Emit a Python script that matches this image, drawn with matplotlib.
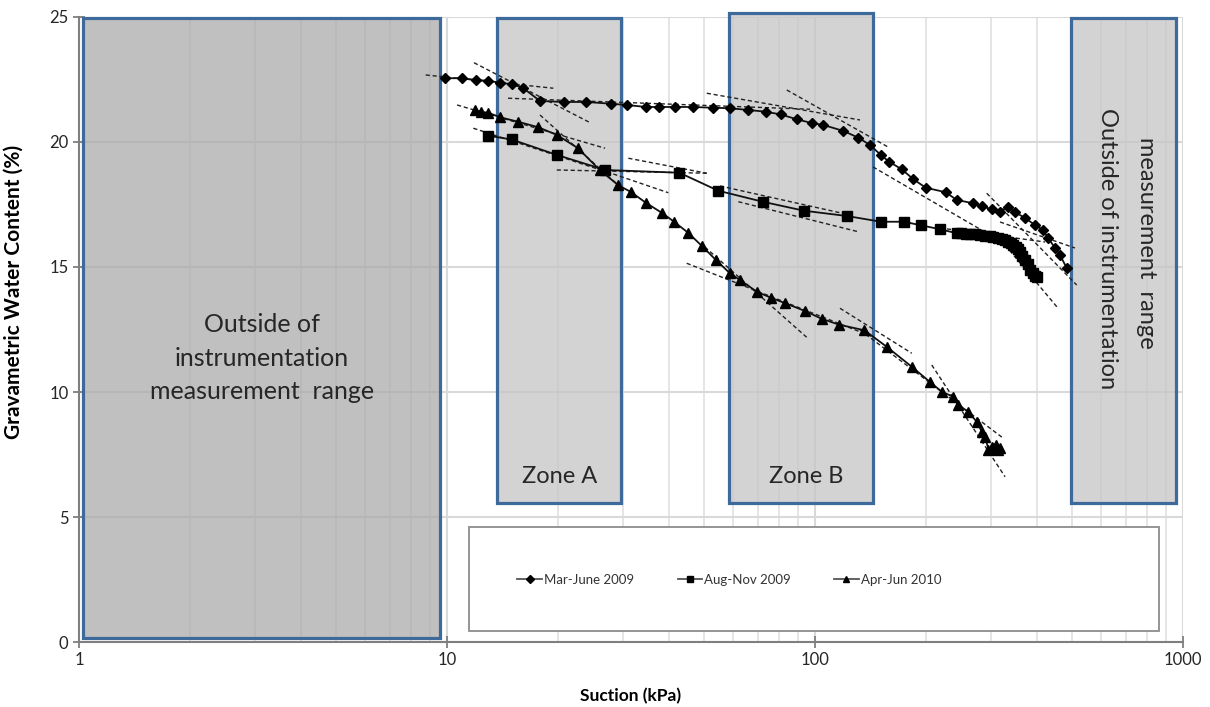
import matplotlib
matplotlib.use("Agg")
import matplotlib.pyplot as plt
from matplotlib.patches import Rectangle
from matplotlib.ticker import LogLocator, FixedLocator, NullFormatter

plt.rcParams['font.family'] = ['Lato', 'DejaVu Sans']

# === data ===
# Mar-June 2009 (diamonds)
suction_2009a = [9.9, 10.96, 11.99, 12.92, 13.93, 14.99, 16.05, 17.9, 20.8, 23.9,
                 27.9, 30.8, 34.7, 37.7, 41.6, 46.6, 52.7, 58.7, 65.8, 73.6,
                 80.7, 89.6, 98.4, 105.4, 119.5, 131.2, 141, 151, 158.9, 172,
                 185, 200, 226.6, 242.7, 269, 284, 302, 318, 334, 349,
                 372, 396, 416, 430, 449, 463, 483]
water_2009a = [22.55, 22.55, 22.48, 22.45, 22.37, 22.31, 22.17, 21.64, 21.6, 21.6,
               21.53, 21.48, 21.4, 21.4, 21.4, 21.4, 21.37, 21.35, 21.28, 21.21,
               21.1, 20.9, 20.75, 20.68, 20.44, 20.17, 19.88, 19.48, 19.21, 18.91,
               18.51, 18.17, 17.99, 17.68, 17.55, 17.44, 17.3, 17.21, 17.41, 17.2,
               16.96, 16.68, 16.48, 16.16, 15.76, 15.48, 14.96]

# Aug-Nov 2009 (squares)
suction_2009b = [12.95, 14.99, 19.9, 26.9, 42.8, 54.6, 72.1, 93.4, 122, 151,
                 174.5, 193.7, 218.6, 242.7, 250, 258, 264, 272, 281, 290,
                 298, 305, 315, 322, 328, 335, 340, 346, 352, 356,
                 361, 366, 372, 378, 384, 390, 395, 400]
water_2009b = [20.25, 20.1, 19.48, 18.88, 18.77, 18.05, 17.61, 17.25, 17.04, 16.81,
               16.81, 16.67, 16.51, 16.35, 16.34, 16.33, 16.32, 16.3, 16.28, 16.25,
               16.22, 16.19, 16.14, 16.1, 16.08, 16.0, 15.95, 15.88, 15.8, 15.72,
               15.61, 15.45, 15.28, 15.1, 14.88, 14.75, 14.65, 14.6]

# Apr-Jun 2010 (triangles)
suction_2010 = [11.92, 12.4, 12.95, 13.93, 15.6, 17.7, 19.9, 22.7, 26.0, 29.2,
                31.6, 34.7, 38.5, 41.4, 45.2, 49.2, 53.8, 58.7, 62.5, 69.5,
                75.9, 83.0, 93.9, 104.2, 116.4, 136.2, 156.6, 183.2, 205, 221,
                237.6, 245, 261, 275, 284, 290, 296, 302, 305, 310, 315, 318]
water_2010 = [21.28, 21.2, 21.17, 20.99, 20.81, 20.59, 20.28, 19.75, 18.88, 18.27,
              18.0, 17.57, 17.15, 16.81, 16.37, 15.85, 15.28, 14.75, 14.48, 14.01,
              13.77, 13.55, 13.24, 12.93, 12.69, 12.47, 11.81, 11.01, 10.41, 10.01,
              9.81, 9.48, 9.21, 8.81, 8.41, 8.2, 7.7, 7.81, 7.75, 7.9, 7.7, 7.75]

series_labels = ['Mar-June 2009', 'Aug-Nov 2009', 'Apr-Jun 2010']

# dashed tangent lines: (x0, y0, x1, y1)
tangents = [
    (8.75, 22.68, 19.45, 22.15), (11.84, 23.17, 24.5, 20.77),
    (14.65, 21.75, 96.9, 21.31), (50.8, 21.95, 132.5, 20.88),
    (83.8, 22.08, 157.9, 19.8), (143.8, 19.0, 298.9, 16.28),
    (318.2, 16.8, 508.7, 15.76), (292.8, 17.95, 514.1, 14.28),
    (11.79, 20.55, 27.16, 18.8), (19.87, 18.88, 50.8, 18.75),
    (31.1, 19.35, 50.8, 18.75), (27.16, 18.81, 39.94, 17.97),
    (61.9, 17.61, 131.1, 16.41), (55.2, 18.24, 124.5, 17.08),
    (218.7, 16.56, 421.7, 16.0), (328.4, 15.88, 454.6, 13.4),
    (10.65, 21.48, 26.88, 19.75), (17.89, 21.08, 29.52, 18.21),
    (44.8, 15.15, 143.8, 12.2), (50.2, 15.8, 94.9, 12.19),
    (116.9, 13.35, 183.2, 11.55), (132.5, 12.48, 324.9, 8.15),
    (207.6, 11.08, 328.4, 6.61),
]

# shaded regions: (x_left, x_right, y_bottom, y_top, fill)
regions = [
    (1.025, 9.57, 0.15, 24.95, '#ababab'),
    (13.67, 29.7, 5.56, 24.95, '#c5c5c5'),
    (58.4, 143.8, 5.56, 25.15, '#c5c5c5'),
    (496.4, 957.0, 5.56, 24.95, '#c5c5c5'),
]

fig = plt.figure(figsize=(12.1, 7.07), dpi=100)
ax = fig.add_axes([0.0653, 0.0919, 0.9124, 0.8841])
ax.set_xscale('log')
ax.set_xlim(1, 1000)
ax.set_ylim(0, 25)

# grid
ax.xaxis.set_minor_locator(LogLocator(base=10, subs=range(2, 10)))
ax.xaxis.set_minor_formatter(NullFormatter())
ax.grid(True, which='major', color='#d9d9d9', lw=1.5, zorder=0)
ax.grid(True, which='minor', axis='x', color='#e3e3e3', lw=1.3, zorder=0)
ax.set_axisbelow(True)
ax.tick_params(axis='x', which='minor', length=0)

for x0, x1, y0, y1, fc in regions:
    ax.add_patch(Rectangle((x0, y0), x1 - x0, y1 - y0, facecolor=fc, alpha=0.75,
                           edgecolor='none', zorder=1, clip_on=False))
    ax.add_patch(Rectangle((x0, y0), x1 - x0, y1 - y0, facecolor='none',
                           edgecolor='#3d6a9a', lw=2.3, zorder=2, clip_on=False))

# legend frame
ax.add_patch(Rectangle((11.48, 0.44), 860.6 - 11.48, 4.6 - 0.44, facecolor='white',
                       edgecolor='#8c8c8c', lw=1.3, zorder=2))

for x0, y0, x1, y1 in tangents:
    ax.plot([x0, x1], [y0, y1], color='#222222', lw=1.0, ls=(0, (3, 2)), zorder=3)

style = dict(color='#111111', lw=1.3, zorder=4, markeredgecolor='black',
             markerfacecolor='black')
h1, = ax.plot(suction_2009a, water_2009a, marker='D', ms=5.5, label=series_labels[0], **style)
h2, = ax.plot(suction_2009b, water_2009b, marker='s', ms=6.5, label=series_labels[1], **style)
h3, = ax.plot(suction_2010, water_2010, marker='^', ms=6.5, label=series_labels[2], **style)

leg = ax.legend(handles=[h1, h2, h3], loc='center', bbox_to_anchor=(0.589, 0.10),
                ncol=3, frameon=False, fontsize=9.5, handlelength=1.85,
                handletextpad=0.15, columnspacing=3.3, markerscale=0.75)
leg.set_zorder(5)
for line in leg.get_lines():
    line.set_color('#555555')
    line.set_markerfacecolor('black')
    line.set_markeredgecolor('black')
for t in leg.get_texts():
    t.set_color('#333333')

# region labels
ax.text(3.14, 11.36, 'Outside of\ninstrumentation\nmeasurement  range', ha='center',
        va='center', fontsize=18, color='#262626', linespacing=1.55, zorder=5)
ax.text(20.2, 6.64, 'Zone A', ha='center', va='center', fontsize=17, color='#262626', zorder=5)
ax.text(94.5, 6.64, 'Zone B', ha='center', va='center', fontsize=17, color='#262626', zorder=5)
ax.text(621.8, 15.72, 'Outside of instrumentation', ha='center', va='center', fontsize=17,
        rotation=-90, color='#262626', zorder=5)
ax.text(793.3, 15.96, 'measurement  range', ha='center', va='center', fontsize=17,
        rotation=-90, color='#262626', zorder=5)

# axes styling
for side in ('top', 'right'):
    ax.spines[side].set_visible(False)
for side in ('left', 'bottom'):
    ax.spines[side].set_color('#7f7f7f')
    ax.spines[side].set_linewidth(1.5)
ax.xaxis.set_major_locator(FixedLocator([1, 10, 100, 1000]))
ax.set_xticklabels(['1', '10', '100', '1000'])
ax.set_yticks([0, 5, 10, 15, 20, 25])
ax.tick_params(axis='both', which='major', labelsize=12, colors='#7f7f7f',
               labelcolor='#262626', direction='inout', length=8, width=1.3)
ax.set_xlabel('Suction (kPa)', fontsize=12.5, fontweight='bold', labelpad=14)
ax.set_ylabel('Gravametric Water Content (%)', fontsize=15, fontweight='bold')
ax.yaxis.set_label_coords(-0.05, 0.56)

fig.savefig('out.png', dpi=100)
